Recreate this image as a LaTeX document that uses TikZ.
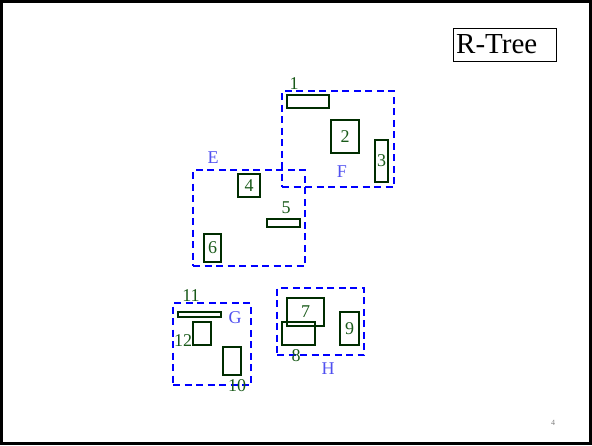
\documentclass[tikz,border=0pt]{standalone}
\usepackage{fontspec}
\setmainfont{Liberation Serif}
\usetikzlibrary{positioning}
\definecolor{leafline}{RGB}{0,45,0}
\definecolor{leaftext}{RGB}{25,90,25}
\definecolor{mbrtext}{RGB}{80,80,240}
\tikzset{
  leafbox/.style={draw=leafline, line width=2.2pt, inner sep=0pt, outer sep=0pt, text=leaftext, font=\fontsize{18}{18}\selectfont},
  mbrbox/.style={draw=blue, line width=2pt, dash pattern=on 7pt off 4.5pt, inner sep=0pt, outer sep=0pt},
  numlabel/.style={text=leaftext, font=\fontsize{18}{18}\selectfont, inner sep=0pt},
  mbrlabel/.style={text=mbrtext, font=\fontsize{18}{18}\selectfont, inner sep=0pt},
  titlebox/.style={draw, line width=0.8pt, minimum width=103, minimum height=33, inner sep=0pt}
}

\begin{document}
\begin{tikzpicture}[x=1pt, y=-1pt]
  \useasboundingbox (0,0) rectangle (592,445);
  \draw[line width=3pt] (1.5,1.5) rectangle (590.5,443);
  % title
  \node[titlebox] (title) at (505,45) {};
  \node[font=\fontsize{29}{29}\selectfont, anchor=west, inner sep=0pt] (titletext) at (456,44) {R-Tree};
  % bounding rectangles of the upper level
  \node[mbrbox, minimum width=112, minimum height=96] (boxE) at (249,218) {};
  \node[mbrbox, minimum width=112, minimum height=96] (boxF) at (338,139) {};
  \node[mbrbox, minimum width=78, minimum height=82] (boxG) at (212,344) {};
  \node[mbrbox, minimum width=87, minimum height=67] (boxH) at (320.5,321.5) {};
  \node[mbrlabel] (labE) at (213,158) {E};
  \node[mbrlabel] (labF) at (342,172) {F};
  \node[mbrlabel] (labG) at (235,318) {G};
  \node[mbrlabel] (labH) at (328,369) {H};
  % leaf rectangles
  \node[leafbox, minimum width=42, minimum height=13] (r1) at (308,101.5) {};
  \node[leafbox, minimum width=28, minimum height=33] (r2) at (345,136.5) {2};
  \node[leafbox, minimum width=13, minimum height=42] (r3) at (381.5,161) {3};
  \node[leafbox, minimum width=22, minimum height=23] (r4) at (249,185.5) {4};
  \node[leafbox, minimum width=33, minimum height=8] (r5) at (283.5,223) {};
  \node[leafbox, minimum width=17, minimum height=28] (r6) at (212.5,248) {6};
  \node[leafbox, minimum width=37, minimum height=28] (r7) at (305.5,312) {7};
  \node[leafbox, minimum width=33, minimum height=23] (r8) at (298.5,333.5) {};
  \node[leafbox, minimum width=19, minimum height=33] (r9) at (349.5,328.5) {9};
  \node[leafbox, minimum width=18, minimum height=28] (r10) at (232,361) {};
  \node[leafbox, minimum width=43, minimum height=5.5, line width=1.8pt] (r11) at (199.5,314.5) {};
  \node[leafbox, minimum width=18, minimum height=23] (r12) at (202,333.5) {};
  \node[numlabel] (lab1) at (294,84) {1};
  \node[numlabel] (lab5) at (286,208) {5};
  \node[numlabel] (lab8) at (296,356) {8};
  \node[numlabel] (lab10) at (237,386) {10};
  \node[numlabel] (lab11) at (191,296) {11};
  \node[numlabel] (lab12) at (183,341) {12};
  % page number
  \node[text=gray, font=\fontsize{8}{8}\selectfont, inner sep=0pt] (pagenum) at (553,423) {4};
\end{tikzpicture}
\end{document}
